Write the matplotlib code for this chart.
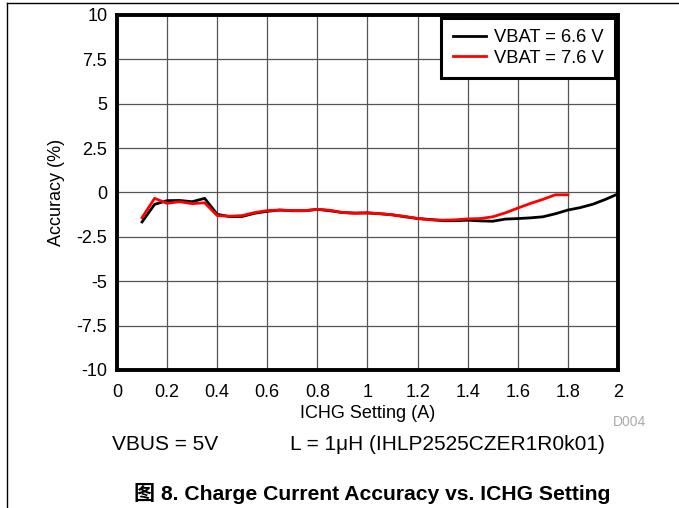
import matplotlib
matplotlib.use('Agg')
import matplotlib.pyplot as plt
from matplotlib.lines import Line2D

plt.rcParams['font.family'] = ['Liberation Sans', 'Noto Sans CJK SC', 'DejaVu Sans']

# ICHG setting (A)
ichg_66 = [0.1, 0.15, 0.2, 0.25, 0.3, 0.35, 0.4, 0.45, 0.5, 0.55, 0.6, 0.65, 0.7, 0.75,
           0.8, 0.85, 0.9, 0.95, 1.0, 1.05, 1.1, 1.15, 1.2, 1.25, 1.3, 1.35, 1.4, 1.45,
           1.5, 1.55, 1.6, 1.65, 1.7, 1.75, 1.8, 1.85, 1.9, 1.95, 2.0]
acc_66 = [-1.66, -0.67, -0.46, -0.45, -0.52, -0.33, -1.23, -1.36, -1.35, -1.17, -1.06, -0.99,
          -1.03, -1.03, -0.95, -1.03, -1.13, -1.16, -1.15, -1.2, -1.26, -1.37, -1.47, -1.52,
          -1.59, -1.59, -1.56, -1.6, -1.62, -1.5, -1.47, -1.43, -1.37, -1.2, -0.99, -0.85,
          -0.66, -0.39, -0.08]

ichg_76 = [0.1, 0.15, 0.2, 0.25, 0.3, 0.35, 0.4, 0.45, 0.5, 0.55, 0.6, 0.65, 0.7, 0.75,
           0.8, 0.85, 0.9, 0.95, 1.0, 1.05, 1.1, 1.15, 1.2, 1.25, 1.3, 1.35, 1.4, 1.45,
           1.5, 1.55, 1.6, 1.65, 1.7, 1.75, 1.8]
acc_76 = [-1.42, -0.33, -0.61, -0.52, -0.63, -0.58, -1.3, -1.34, -1.3, -1.13, -1.02, -0.99,
          -1.02, -1.02, -0.95, -1.0, -1.13, -1.17, -1.15, -1.19, -1.26, -1.35, -1.46, -1.54,
          -1.56, -1.54, -1.49, -1.47, -1.37, -1.15, -0.88, -0.62, -0.39, -0.13, -0.13]

x_ticks = [0, 0.2, 0.4, 0.6, 0.8, 1.0, 1.2, 1.4, 1.6, 1.8, 2.0]
x_tick_labels = ['0', '0.2', '0.4', '0.6', '0.8', '1', '1.2', '1.4', '1.6', '1.8', '2']
y_ticks = [-10, -7.5, -5, -2.5, 0, 2.5, 5, 7.5, 10]
y_tick_labels = ['-10', '-7.5', '-5', '-2.5', '0', '2.5', '5', '7.5', '10']

fig = plt.figure(figsize=(6.79, 5.08), dpi=100)
ax = fig.add_axes([0.1723, 0.2717, 0.7378, 0.6988])

ax.plot(ichg_66, acc_66, color='black', linewidth=2, label='VBAT = 6.6 V', zorder=3)
ax.plot(ichg_76, acc_76, color='#ff0000', linewidth=2, label='VBAT = 7.6 V', zorder=4)

ax.set_xlim(0, 2)
ax.set_ylim(-10, 10)
ax.set_xticks(x_ticks)
ax.set_xticklabels(x_tick_labels, fontsize=13)
ax.set_yticks(y_ticks)
ax.set_yticklabels(y_tick_labels, fontsize=13)
ax.tick_params(axis='x', length=0, pad=10)
ax.tick_params(axis='y', length=0, pad=7)
ax.grid(True, color='#555555', linewidth=0.9)
ax.set_axisbelow(True)
for sp in ax.spines.values():
    sp.set_linewidth(2.8)

ax.set_xlabel('ICHG Setting (A)', fontsize=13, labelpad=3)
ax.set_ylabel('Accuracy (%)', fontsize=13, labelpad=8)

leg = ax.legend(loc='upper right', fontsize=13.2, fancybox=False, framealpha=1,
                edgecolor='black', borderaxespad=0.15, handlelength=1.8,
                handletextpad=0.45, labelspacing=0.2, borderpad=0.62)
leg.get_frame().set_linewidth(2.2)

fig.text(630 / 679, 1 - 422 / 508, 'D004', fontsize=10, color='#aaaaaa', ha='center', va='center')
fig.text(112 / 679, 1 - 445 / 508, 'VBUS = 5V', fontsize=15, ha='left', va='center')
fig.text(290 / 679, 1 - 445 / 508, 'L = 1μH (IHLP2525CZER1R0k01)', fontsize=15, ha='left', va='center')
fig.text(372 / 679, 1 - 493 / 508, '图 8. Charge Current Accuracy vs. ICHG Setting',
         fontsize=15.2, fontweight='bold', ha='center', va='center')

# page frame lines
fig.add_artist(Line2D([7 / 679, 7 / 679], [0, 1 - 3 / 508], transform=fig.transFigure,
                      color='black', linewidth=1))
fig.add_artist(Line2D([7 / 679, 1], [1 - 3 / 508, 1 - 3 / 508], transform=fig.transFigure,
                      color='black', linewidth=1))

fig.savefig('out.png', dpi=100)
